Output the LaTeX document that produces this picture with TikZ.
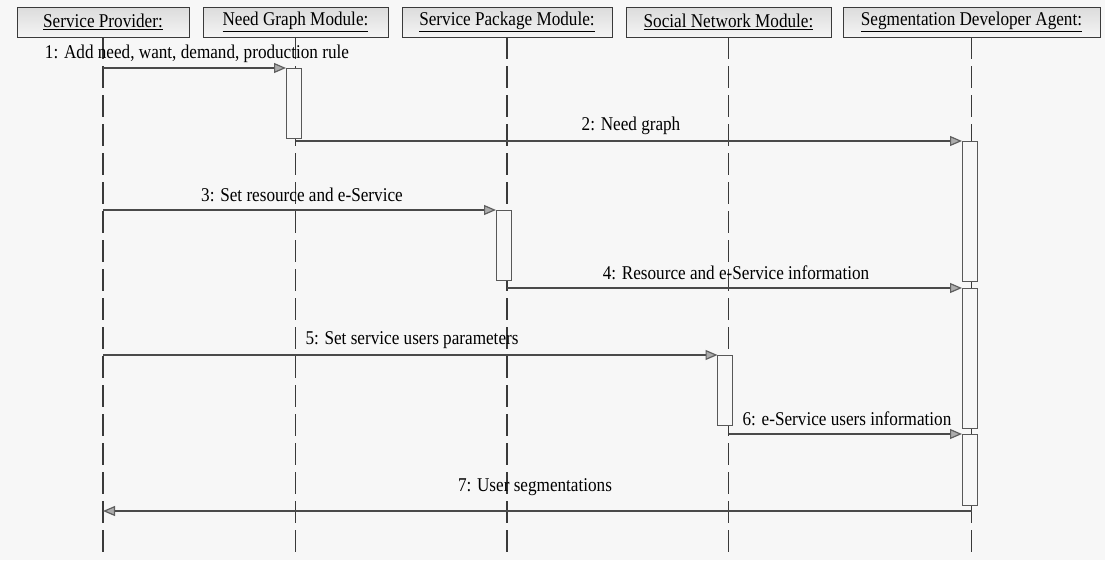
\documentclass[tikz,border=0pt]{standalone}
\usepackage{fontspec}
\setmainfont{Liberation Serif}[FakeStretch=0.88]
\usetikzlibrary{arrows.meta}
\definecolor{bg}{HTML}{F7F7F7}
\definecolor{ln}{HTML}{4A4A4A}
\definecolor{bd}{HTML}{3A3A3A}
\tikzset{
  head/.style={draw=bd, line width=1pt, top color=gray!28, bottom color=gray!8,
    minimum height=30pt, inner sep=0pt, outer sep=0pt, font=\fontsize{19.5pt}{21pt}\selectfont},
  lifeline/.style={draw=bd, line width=1.2pt, dash pattern=on 22pt off 7pt},
  act/.style={draw=bd!85, fill=bg, line width=0.9pt, minimum width=15pt, inner sep=0pt, outer sep=0pt},
  msg/.style={draw=ln, line width=1.2pt, -{Triangle[length=12pt,width=10pt,fill=gray!65,color=gray!75!black]}},
  lbl/.style={inner sep=0pt, font=\fontsize{19.5pt}{21pt}\selectfont, text=black}
}
\begin{document}
\begin{tikzpicture}[x=1pt,y=-1pt]
\fill[bg] (0,0) rectangle (1105,560);
\useasboundingbox (0,0) rectangle (1105,560);
% heads
\node[head, minimum width=172pt] (sp)  at (103,22)   {\underline{Service Provider:}};
\node[head, minimum width=185pt] (ngm) at (295.5,22) {\underline{Need Graph Module:}};
\node[head, minimum width=210pt] (spm) at (507,22)   {\underline{Service Package Module:}};
\node[head, minimum width=205pt] (snm) at (728.5,22) {\underline{Social Network Module:}};
\node[head, minimum width=257pt] (sda) at (971.5,22) {\underline{Segmentation Developer Agent:}};
% lifeline ends
\coordinate (spE)  at (sp.south  |- 0,553);
\coordinate (ngmE) at (ngm.south |- 0,553);
\coordinate (spmE) at (spm.south |- 0,553);
\coordinate (snmE) at (snm.south |- 0,553);
\coordinate (sdaE) at (sda.south |- 0,553);
\draw[lifeline] (sp.south)  -- (spE);
\draw[lifeline] (ngm.south) -- (ngmE);
\draw[lifeline] (spm.south) -- (spmE);
\draw[lifeline] (snm.south) -- (snmE);
\draw[lifeline] (sda.south) -- (sdaE);
% activations
\node[act, minimum height=70pt]  (a1) at (293.5,103) {};
\node[act, minimum height=140pt] (a2) at (969.5,211) {};
\node[act, minimum height=70pt]  (a3) at (503.5,245) {};
\node[act, minimum height=140pt] (a4) at (969.5,358) {};
\node[act, minimum height=70pt]  (a5) at (725,390)   {};
\node[act, minimum height=71pt]  (a6) at (969.5,469.5) {};
% messages
\draw[msg] (sp.south |- a1.north west) -- (a1.north west);
\draw[msg] (ngm.south |- a2.north west) -- (a2.north west);
\draw[msg] (sp.south |- a3.north west) -- (a3.north west);
\draw[msg] (spm.south |- a4.north west) -- (a4.north west);
\draw[msg] (sp.south |- a5.north west) -- (a5.north west);
\draw[msg] (snm.south |- a6.north west) -- (a6.north west);
\coordinate (m7s) at (sda.south |- 0,511);
\coordinate (m7e) at (sp.south |- 0,511);
\draw[msg] (m7s) -- (m7e);
% labels
\node[lbl] (l1) at (197,54)  {1: Add need, want, demand, production rule};
\node[lbl] (l2) at (631,126) {2: Need graph};
\node[lbl] (l3) at (302,195) {3: Set resource and e-Service};
\node[lbl] (l4) at (736,273) {4: Resource and e-Service information};
\node[lbl] (l5) at (412,340) {5: Set service users parameters};
\node[lbl] (l6) at (847,419) {6: e-Service users information};
\node[lbl] (l7) at (535,487) {7: User segmentations};
\end{tikzpicture}
\end{document}
